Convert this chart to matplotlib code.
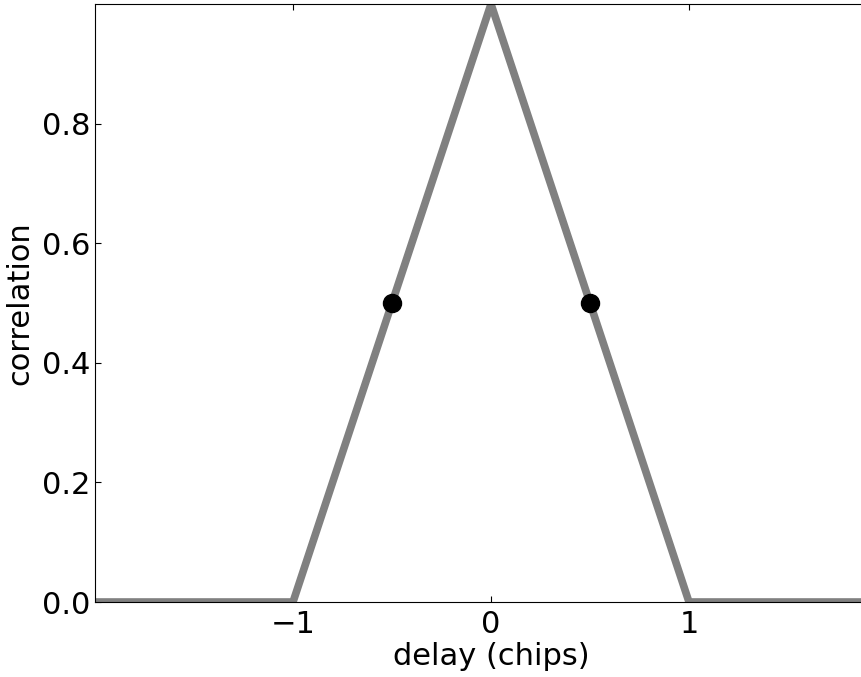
import numpy as np
from matplotlib import pyplot as plot

# Triangle correlation of a chip code versus delay
delay = [-2, -1, 0, 1, 2]
corr = [0, 0, 1, 0, 0]
# early / late sample points
pt_delay = [-0.5, 0.5]
pt_corr = [0.5, 0.5]

xticks = [-1, 0, 1]
yticks = [0.0, 0.2, 0.4, 0.6, 0.8]

font_size = 22
plot.rcParams.update({'font.size': font_size,
                      'xtick.direction': 'in', 'ytick.direction': 'in',
                      'xtick.top': True, 'ytick.right': True,
                      'xtick.major.size': 4, 'ytick.major.size': 4})

fig = plot.figure(figsize=(8.61, 6.77), dpi=100)
# axes run a little past the right edge of the figure
ax = fig.add_axes([95 / 861, 75 / 677, 792 / 861, 598 / 677])

ax.plot(delay, corr, color='#808080', linewidth=5.5)
ax.plot(pt_delay, pt_corr, 'o', color='black', markersize=13)

ax.set_xlim(-2, 2)
ax.set_ylim(0, 1)
ax.set_xticks(xticks)
ax.set_yticks(yticks)
ax.set_yticklabels([f'{t:.1f}' for t in yticks])
ax.tick_params(axis='x', pad=6)
ax.tick_params(axis='y', pad=3)

ax.set_xlabel('delay (chips)', labelpad=2)
ax.set_ylabel('correlation', labelpad=6)

plot.savefig('out.png', dpi=100)
